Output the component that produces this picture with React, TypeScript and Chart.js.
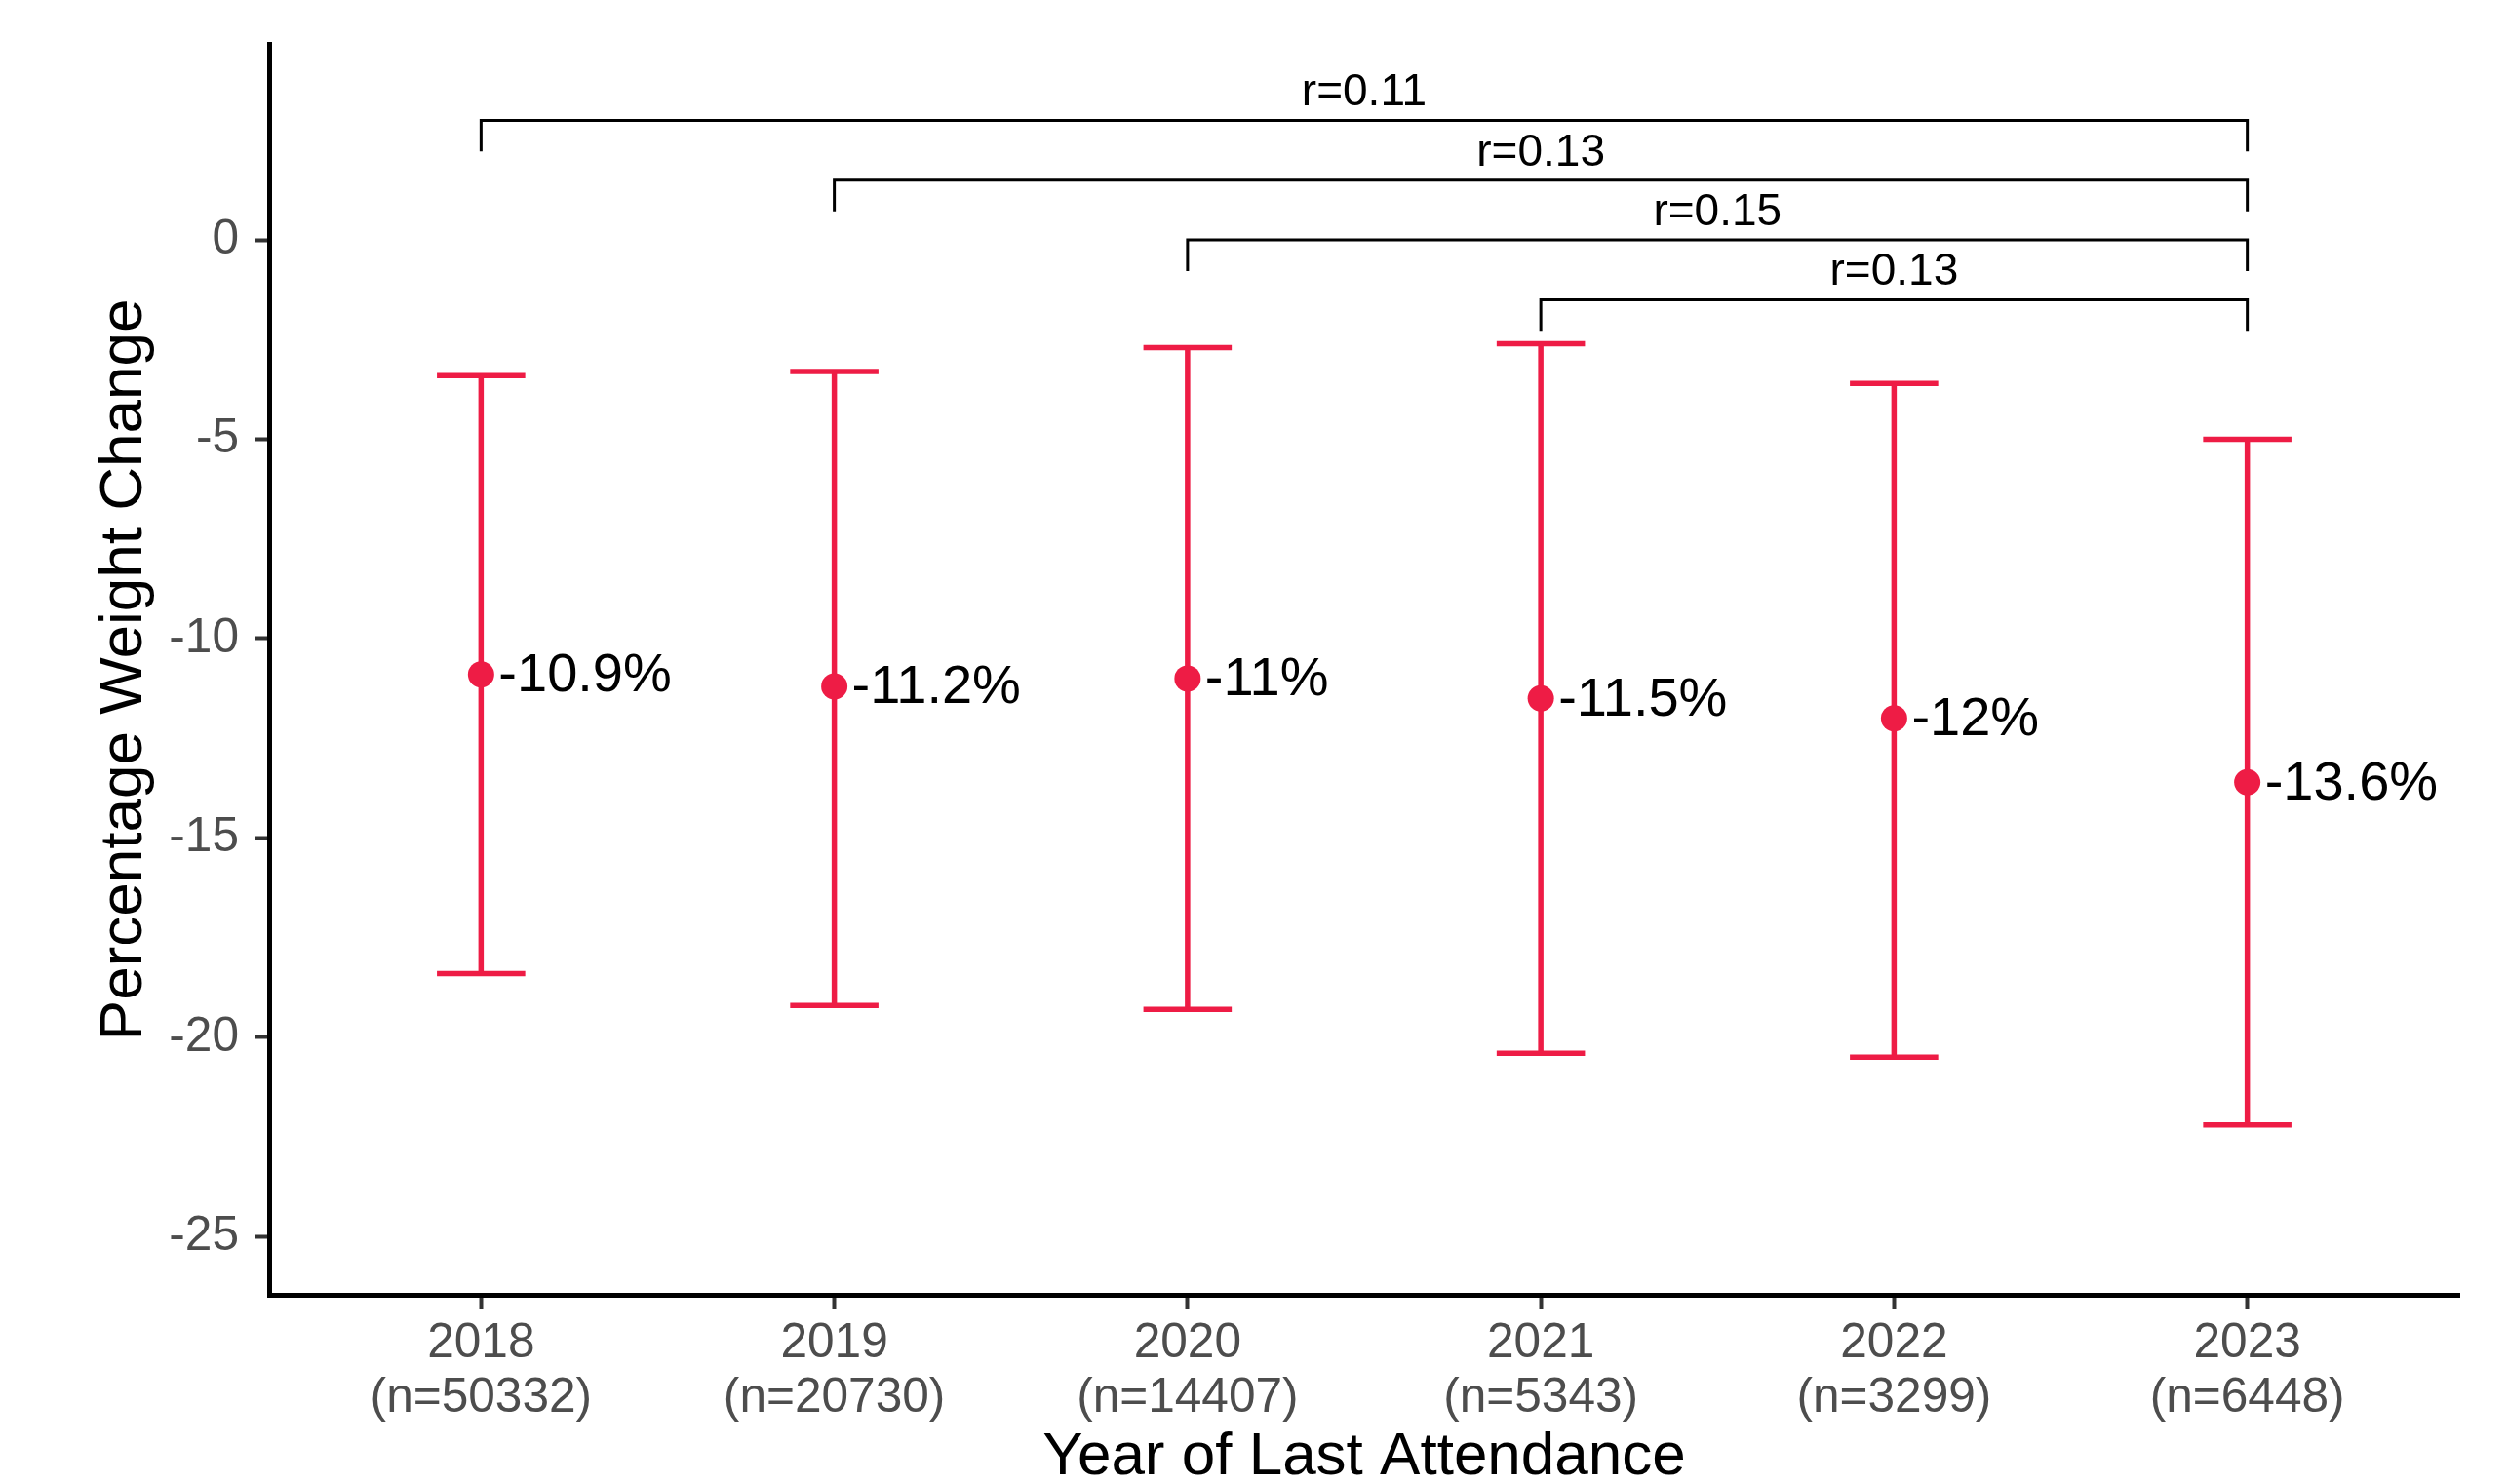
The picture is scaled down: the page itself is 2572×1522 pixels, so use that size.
import React, { useEffect, useRef } from 'react';
import { Chart, registerables } from 'chart.js';

Chart.register(...registerables);

const years = ['2018', '2019', '2020', '2021', '2022', '2023'];
const counts = ['(n=50332)', '(n=20730)', '(n=14407)', '(n=5343)', '(n=3299)', '(n=6448)'];
const means = [-10.9, -11.2, -11.0, -11.5, -12.0, -13.6];
const lower = [-18.4, -19.2, -19.3, -20.4, -20.5, -22.2];
const upper = [-3.4, -3.3, -2.7, -2.6, -3.6, -5.0];
const valueLabels = ['-10.9%', '-11.2%', '-11%', '-11.5%', '-12%', '-13.6%'];

const bracketFrom = [0, 1, 2, 3];
const bracketTo = [5, 5, 5, 5];
const bracketLevel = [3.0, 1.5, 0.0, -1.5];
const bracketLabels = ['r=0.11', 'r=0.13', 'r=0.15', 'r=0.13'];
const bracketTip = 0.78;

const yTicks = [-25, -20, -15, -10, -5, 0];

const RED = '#EE1C45';
const FONT = '"Liberation Sans", Arial, sans-serif';

export default function App() {
  const ref = useRef<HTMLCanvasElement | null>(null);

  useEffect(() => {
    const canvas = ref.current;
    if (!canvas) return;

    const overlay = {
      id: 'overlay',
      beforeDatasetsDraw(chart: any) {
        const { ctx, scales } = chart;
        const xs = scales.x;
        const ys = scales.y;
        const unit = xs.getPixelForValue(1) - xs.getPixelForValue(0);
        const half = unit * 0.125;
        ctx.save();
        ctx.strokeStyle = RED;
        ctx.lineWidth = 5.5;
        ctx.lineCap = 'butt';
        for (let i = 0; i < means.length; i++) {
          const x = xs.getPixelForValue(i);
          const yl = ys.getPixelForValue(lower[i]);
          const yu = ys.getPixelForValue(upper[i]);
          ctx.beginPath();
          ctx.moveTo(x, yl);
          ctx.lineTo(x, yu);
          ctx.moveTo(x - half, yl);
          ctx.lineTo(x + half, yl);
          ctx.moveTo(x - half, yu);
          ctx.lineTo(x + half, yu);
          ctx.stroke();
        }
        // brackets
        ctx.strokeStyle = '#000000';
        ctx.lineWidth = 3;
        ctx.fillStyle = '#000000';
        ctx.font = `46px ${FONT}`;
        ctx.textAlign = 'center';
        ctx.textBaseline = 'alphabetic';
        for (let b = 0; b < bracketFrom.length; b++) {
          const x1 = xs.getPixelForValue(bracketFrom[b]);
          const x2 = xs.getPixelForValue(bracketTo[b]);
          const y = ys.getPixelForValue(bracketLevel[b]);
          const yt = ys.getPixelForValue(bracketLevel[b] - bracketTip);
          ctx.beginPath();
          ctx.moveTo(x1, yt);
          ctx.lineTo(x1, y);
          ctx.lineTo(x2, y);
          ctx.lineTo(x2, yt);
          ctx.stroke();
          ctx.fillText(bracketLabels[b], (x1 + x2) / 2, y - 15);
        }
        ctx.restore();
      },
      afterDatasetsDraw(chart: any) {
        const { ctx, scales } = chart;
        const xs = scales.x;
        const ys = scales.y;
        ctx.save();
        ctx.fillStyle = '#000000';
        ctx.font = `56px ${FONT}`;
        ctx.textAlign = 'left';
        ctx.textBaseline = 'middle';
        for (let i = 0; i < means.length; i++) {
          const x = xs.getPixelForValue(i);
          const y = ys.getPixelForValue(means[i]);
          ctx.fillText(valueLabels[i], x + 18, y + 2);
        }
        ctx.restore();
      },
    };

    const chart = new Chart(canvas, {
      type: 'scatter',
      data: {
        datasets: [
          {
            data: means.map((m, i) => ({ x: i, y: m })),
            backgroundColor: RED,
            borderColor: RED,
            pointRadius: 13.5,
            pointBorderWidth: 0,
            pointHoverRadius: 13.5,
          },
        ],
      },
      options: {
        responsive: false,
        animation: false,
        events: [],
        layout: { padding: { top: 42, right: 50, left: 0, bottom: 0 } },
        plugins: {
          legend: { display: false },
          tooltip: { enabled: false },
        },
        scales: {
          x: {
            type: 'linear',
            min: -0.6,
            max: 5.6,
            afterFit: (s: any) => {
              s.height = 194;
            },
            afterBuildTicks: (s: any) => {
              s.ticks = years.map((_, i) => ({ value: i }));
            },
            ticks: {
              autoSkip: false,
              maxRotation: 0,
              padding: 7,
              color: '#4D4D4D',
              font: { family: FONT, size: 49.6, lineHeight: 1.13 },
              callback: (v: any) => {
                const i = Math.round(Number(v));
                return [years[i], counts[i]];
              },
            },
            grid: {
              display: true,
              drawOnChartArea: false,
              drawTicks: true,
              tickLength: 15,
              tickWidth: 4,
              tickColor: '#333333',
            },
            border: { display: true, color: '#000000', width: 5 },
            title: {
              display: true,
              text: 'Year of Last Attendance',
              color: '#000000',
              font: { family: FONT, size: 62, lineHeight: 1 },
              padding: { top: 0, bottom: -4 },
            },
          },
          y: {
            type: 'linear',
            min: -26.46,
            max: 4.9,
            afterFit: (s: any) => {
              s.width = 276;
            },
            afterBuildTicks: (s: any) => {
              s.ticks = yTicks.map((v) => ({ value: v }));
            },
            ticks: {
              padding: 16,
              color: '#4D4D4D',
              font: { family: FONT, size: 49.6 },
              callback: (v: any) => String(v),
            },
            grid: {
              display: true,
              drawOnChartArea: false,
              drawTicks: true,
              tickLength: 15,
              tickWidth: 4,
              tickColor: '#333333',
            },
            border: { display: true, color: '#000000', width: 5 },
            title: {
              display: true,
              text: 'Percentage Weight Change',
              color: '#000000',
              font: { family: FONT, size: 62, lineHeight: 1 },
              padding: { top: 97, bottom: 0 },
            },
          },
        },
      },
      plugins: [overlay],
    });

    return () => chart.destroy();
  }, []);

  return (
    <div style={{ position: 'fixed', left: 0, top: 0, width: 2572, height: 1522, background: '#ffffff' }}>
      <canvas ref={ref} width={2572} height={1522} style={{ display: 'block' }} />
    </div>
  );
}
